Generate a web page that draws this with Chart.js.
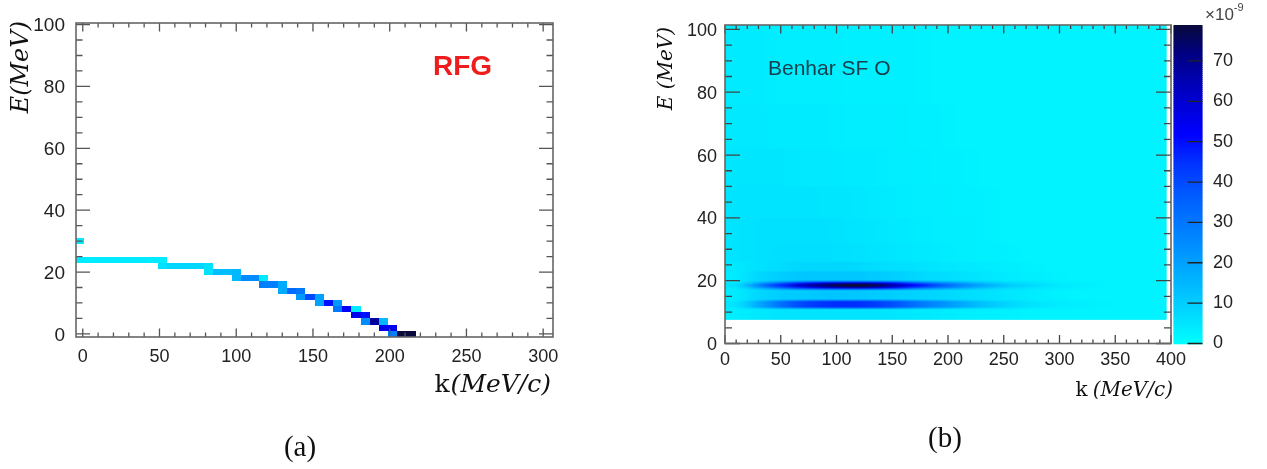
<!DOCTYPE html>
<html><head><meta charset="utf-8">
<script src="https://cdn.jsdelivr.net/npm/chart.js@4.4.1/dist/chart.umd.min.js"></script>
<style>
html,body{margin:0;padding:0;background:#fff;width:1267px;height:469px;overflow:hidden}
#c1{position:absolute;left:0;top:0}
#c2{position:absolute;left:633px;top:0}
</style></head><body>
<canvas id="c1" width="633" height="469"></canvas>
<canvas id="c2" width="634" height="469"></canvas>
<script>
// ---------------- (a) RFG histogram: bin centres (k: 6 MeV/c wide, E: 2 MeV wide) ----------------
const rfgK = [-2,
  -2,4,10,16,22,28,34,40,46,52,
  52,58,64,70,76,82,
  82,88,94,100,
  100,106,112,118,
  118,124,130,
  130,136,142,
  142,148,154,
  154,160,166,
  166,172,178,
  178,184,
  184,190,196,
  196,202,
  202,208,214];
const rfgE = [30,
  24,24,24,24,24,24,24,24,24,24,
  22,22,22,22,22,22,
  20,20,20,20,
  18,18,18,18,
  16,16,16,
  14,14,14,
  12,12,12,
  10,10,10,
  8,8,8,
  6,6,
  4,4,4,
  2,2,
  0,0,0];
const rfgV = [4,
  4,4,4,4,4,4,4,4,4,4,
  6,8,8,8,8,6,
  6,14,14,15,
  15,25,25,4,
  28,28,18,
  18,33,30,
  22,40,20,
  20,50,22,
  30,52,4,
  55,50,
  25,68,15,
  55,55,
  28,79,79];
const xTicksA = [0,50,100,150,200,250,300];
const yTicksA = [0,20,40,60,80,100];

// ---------------- (b) Benhar SF O map: k-bin centres (20 MeV/c wide), rows of 0.5 MeV ----------------
const hmK = [10,30,50,70,90,110,130,150,170,190,210,230,250,270,290,310,330,350,370,390];
const floorRow   = [3.5,4.5,5.5,5.5,5.5,5.5,5.5,5,4.5,4,3.5,3,3,2.5,2.5,2.5,2.5,2.5,2.5,2.5];
const lowEdgeRow = [4,11,19,24,27,28,27,24,19,15,11,8,6,4.5,3.5,3,2.5,2.5,2.5,2.5];
const lowCoreRow = [5,18,32,41,45,46,44,39,32,25,19,13,9,6,4.5,3.5,3,2.5,2.5,2.5];
const gapRow     = [4,8,10,11,12,12,11,10,9,8,7,6,5,4,3,2.5,2.5,2.5,2.5,2.5];
const upEdgeRow  = [4,11,19,26,30,32,31,27,21,16,12,9,6,5,4,3,2.5,2.5,2.5,2.5];
const upMidRow   = [5,19,34,47,56,61,60,50,38,29,21,14,9,6,4.5,3.5,3,2.5,2.5,2.5];
const upCoreRow  = [6,25,45,62,73,79,78,66,50,38,27,19,12,8,5.5,4,3,2.5,2.5,2.5];
const haloRow    = [4,8,10,12,12,12,11,10,8,7,6,5,4,3.5,3,2.5,2.5,2.5,2.5,2.5];
const halo2Row   = [4.5,6,7,8,8,8,7,6.5,6,5,4.5,4,3.5,3,2.5,2.5,2.5,2.5,2.5,2.5];
const diffARow   = [5.5,6,6.5,6.5,6.5,6,5.5,5,4.5,4,3.5,3,3,2.5,2.5,2.5,2.5,2.5,2.5,2.5];
const diffBRow   = [5.5,6,6,6,6,5.5,5,4.5,4,3.5,3.5,3,2.5,2.5,2.5,2.5,2.5,2.5,2.5,2.5];
const diffCRow   = [5.5,5.5,5.5,5.5,5,5,4.5,4,3.5,3.5,3,3,2.5,2.5,2.5,2.5,2.5,2.5,2.5,2.5];
const diffDRow   = [5,5,5,4.5,4.5,4,4,3.5,3.5,3,3,2.5,2.5,2.5,2.5,2.5,2.5,2.5,2.5,2.5];
const diffERow   = [4.5,4.5,4,4,4,3.5,3.5,3.5,3,3,2.5,2.5,2.5,2.5,2.5,2.5,2.5,2.5,2.5,2.5];
const topRow     = [4,4,3.5,3.5,3.5,3,3,3,3,2.5,2.5,2.5,2.5,2.5,2.5,2.5,2.5,2.5,2.5,2.5];
// E ranges (MeV) and which row profile they hold
const hmRowLo = [7, 11, 11.5, 13.5, 14, 17, 17.5, 18, 19, 19.5, 20, 23, 26, 32, 40, 50, 62, 76];
const hmRowHi = [11, 11.5, 13.5, 14, 17, 17.5, 18, 19, 19.5, 20, 23, 26, 32, 40, 50, 62, 76, 102];
const hmRowProfile = [floorRow, lowEdgeRow, lowCoreRow, lowEdgeRow, gapRow, upEdgeRow, upMidRow, upCoreRow, upMidRow, upEdgeRow, haloRow, halo2Row, diffARow, diffBRow, diffCRow, diffDRow, diffERow, topRow];
const xTicksB = [0,50,100,150,200,250,300,350,400];
const yTicksB = [0,20,40,60,80,100];
const cbTicks = [0,10,20,30,40,50,60,70];
const cbMax = 78.9;

// ---------------- palette ----------------
const palV = [0, 8, 16, 25, 35, 45, 52, 62, 72, 79];
const palC = [[0,255,255],[0,215,255],[0,180,255],[0,140,255],[0,100,255],[0,50,255],[0,0,255],[0,0,200],[0,0,130],[10,10,60]];
function pal(v){
  if (v <= palV[0]) return palC[0];
  for (let i=1;i<palV.length;i++){
    if (v <= palV[i]){
      const t=(v-palV[i-1])/(palV[i]-palV[i-1]);
      return palC[i-1].map((c,j)=>Math.round(c+(palC[i][j]-c)*t));
    }
  }
  return palC[palC.length-1];
}
const rgb = c => `rgb(${c[0]},${c[1]},${c[2]})`;

// ---------------- helpers ----------------
function ticksFrom(arr){ return s => { s.ticks = arr.map(v=>({value:v})); }; }
function fixW(w){ return s => { s.width = w; s.paddingTop = 0; s.paddingBottom = 0; }; }
function fixH(h){ return s => { s.height = h; s.paddingLeft = 0; s.paddingRight = 0; }; }
function rootTicks(chart, o){
  const {ctx, chartArea:a, scales} = chart;
  const xs = scales.x, ys = scales.y;
  ctx.save();
  ctx.strokeStyle = o.color; ctx.lineWidth = 1.3;
  ctx.beginPath();
  for (let v=o.x0; v<=xs.max+1e-9; v+=o.xMin){
    if (v < xs.min) continue;
    const p = xs.getPixelForValue(v);
    const maj = Math.abs(v/o.xMaj - Math.round(v/o.xMaj))<1e-6;
    const L = maj? o.xMajL : o.xMinL;
    ctx.moveTo(p,a.bottom); ctx.lineTo(p,a.bottom-L);
    ctx.moveTo(p,a.top); ctx.lineTo(p,a.top+L);
  }
  for (let v=o.y0; v<=ys.max+1e-9; v+=o.yMin){
    if (v < ys.min) continue;
    const p = ys.getPixelForValue(v);
    const maj = Math.abs(v/o.yMaj - Math.round(v/o.yMaj))<1e-6;
    const L = maj? o.yMajL : o.yMinL;
    ctx.moveTo(a.left,p); ctx.lineTo(a.left+L,p);
    ctx.moveTo(a.right,p); ctx.lineTo(a.right-L,p);
  }
  ctx.stroke();
  ctx.lineWidth = 1.6; ctx.strokeStyle = o.frame;
  ctx.strokeRect(a.left, a.top, a.width, a.height);
  ctx.restore();
}
function rotText(ctx, txt, cx, top, font, color){
  ctx.save(); ctx.translate(cx, top); ctx.rotate(-Math.PI/2);
  ctx.font = font; ctx.fillStyle = color; ctx.textAlign='right'; ctx.textBaseline='middle';
  ctx.fillText(txt, 0, 0); ctx.restore();
}
function kTitle(ctx, right, base, size, gap){
  ctx.save(); ctx.fillStyle='#111'; ctx.textBaseline='alphabetic';
  ctx.font = `italic ${size}px "DejaVu Serif"`;
  const rest = '(MeV/c)';
  const w = ctx.measureText(rest).width;
  ctx.textAlign='left';
  ctx.fillText(rest, right - w, base);
  ctx.font = `${size}px "DejaVu Serif"`;
  ctx.textAlign='right';
  ctx.fillText('k', right - w - gap, base);
  ctx.restore();
}
const xFont = {family:'Liberation Sans', size:18};
const yFont = {family:'Liberation Sans', size:19};

// ---------------- chart (a) ----------------
const rfgCells = rfgK.map((k,i)=>({x:k, y:rfgE[i], v:rfgV[i]}));
const rfgPlugin = {
  id:'rfg',
  beforeDatasetsDraw(chart){
    const {ctx, chartArea:a, scales:{x,y}} = chart;
    ctx.save();
    ctx.beginPath(); ctx.rect(a.left,a.top,a.width,a.height); ctx.clip();
    chart.data.datasets[0].data.forEach(p=>{
      const x0 = Math.round(x.getPixelForValue(p.x-3)), x1 = Math.round(x.getPixelForValue(p.x+3));
      const y0 = Math.round(y.getPixelForValue(p.y+1)), y1 = Math.round(y.getPixelForValue(p.y-1));
      ctx.fillStyle = rgb(pal(p.v));
      ctx.fillRect(x0,y0,x1-x0,y1-y0);
    });
    ctx.restore();
  },
  afterDraw(chart){
    const ctx = chart.ctx;
    rootTicks(chart,{color:'#555', frame:'#666', x0:0, xMin:10, xMaj:50, xMajL:8.5, xMinL:4.5, y0:0, yMin:5, yMaj:20, yMajL:14, yMinL:6.5});
    rotText(ctx, 'E(MeV)', 22, 21, 'italic 24px "DejaVu Serif"', '#111');
    kTitle(ctx, 551, 392, 25, 1);
    ctx.save();
    ctx.font = 'bold 28px "Liberation Sans"'; ctx.fillStyle='#ee1c1c'; ctx.textAlign='left'; ctx.textBaseline='alphabetic';
    ctx.fillText('RFG', 433, 75);
    ctx.font = '29px "Liberation Serif"'; ctx.fillStyle='#111'; ctx.textAlign='center';
    ctx.fillText('(a)', 300, 456);
    ctx.restore();
  }
};
new Chart(document.getElementById('c1'), {
  type:'scatter',
  data:{datasets:[{data:rfgCells, pointRadius:0, pointHoverRadius:0}]},
  options:{
    responsive:false, animation:false, events:[],
    layout:{padding:{top:23, right:80, left:0, bottom:0}},
    plugins:{legend:{display:false}, tooltip:{enabled:false}},
    scales:{
      x:{type:'linear', min:-4.4, max:306.4, afterBuildTicks:ticksFrom(xTicksA), afterFit:fixH(132),
         grid:{display:false, drawTicks:false}, border:{display:false},
         ticks:{padding:9, color:'#222', font:xFont, maxRotation:0, autoSkip:false}},
      y:{type:'linear', min:-1, max:100.5, afterBuildTicks:ticksFrom(yTicksA), afterFit:fixW(76),
         grid:{display:false, drawTicks:false}, border:{display:false},
         ticks:{padding:11, labelOffset:1.5, color:'#222', font:yFont, autoSkip:false}}
    }
  },
  plugins:[rfgPlugin]
});

// ---------------- chart (b) ----------------
const hmCells = [];
for (let e=7; e<102; e+=0.5){
  let g = 0;
  for (let i=0;i<hmRowLo.length;i++) if (e>=hmRowLo[i] && e<hmRowHi[i]) g=i;
  const prof = hmRowProfile[g];
  hmK.forEach((k,c)=>hmCells.push({x:k, y:e+0.25, v:prof[c]}));
}
const hmPlugin = {
  id:'hm',
  beforeDatasetsDraw(chart){
    const {ctx, chartArea:a, scales:{x,y,cb}} = chart;
    const pts = chart.data.datasets[0].data;
    const nC = hmK.length, nR = 190;
    const off = document.createElement('canvas'); off.width=nC; off.height=nR;
    const octx = off.getContext('2d'); const img = octx.createImageData(nC,nR);
    pts.forEach(p=>{
      const c = Math.round((p.x-10)/20), r = Math.round((101.75 - p.y)*2);
      const col = pal(p.v); const o = (r*nC+c)*4;
      img.data[o]=col[0]; img.data[o+1]=col[1]; img.data[o+2]=col[2]; img.data[o+3]=255;
    });
    octx.putImageData(img,0,0);
    const left = x.getPixelForValue(0), right = x.getPixelForValue(396);
    const top = a.top, bot = y.getPixelForValue(7.6);
    ctx.save();
    ctx.beginPath(); ctx.rect(left, top, right-left, bot-top); ctx.clip();
    ctx.fillStyle = rgb(pal(2.5)); ctx.fillRect(left, top, right-left, bot-top);
    ctx.imageSmoothingEnabled = true; ctx.imageSmoothingQuality='high';
    ctx.drawImage(off, x.getPixelForValue(0), y.getPixelForValue(102), x.getPixelForValue(400)-x.getPixelForValue(0), y.getPixelForValue(7)-y.getPixelForValue(102));
    ctx.restore();
    // colour bar
    const bx0 = a.right+2.5, bx1 = a.right+31.5;
    ctx.save();
    for (let v=0; v<cbMax; v+=0.5){
      const yA = cb.getPixelForValue(Math.min(v+0.5,cbMax)), yB = cb.getPixelForValue(v);
      ctx.fillStyle = rgb(pal(v+0.25));
      ctx.fillRect(bx0, yA, bx1-bx0, yB-yA+0.8);
    }
    ctx.strokeStyle='#222'; ctx.lineWidth=1.3; ctx.beginPath();
    cbTicks.forEach(v=>{ const p=cb.getPixelForValue(v); ctx.moveTo(bx1,p); ctx.lineTo(bx1-15,p); });
    ctx.stroke();
    ctx.restore();
  },
  afterDraw(chart){
    const ctx = chart.ctx;
    rootTicks(chart,{color:'#444', frame:'#666', x0:0, xMin:10, xMaj:50, xMajL:8.5, xMinL:4, y0:0, yMin:5, yMaj:20, yMajL:15, yMinL:7});
    rotText(ctx, 'E (MeV)', 34, 27, 'italic 20px "DejaVu Serif"', '#111');
    kTitle(ctx, 540, 396, 20, 5);
    ctx.save();
    ctx.font = '21px "Liberation Sans"'; ctx.fillStyle='#17404c'; ctx.textAlign='left'; ctx.textBaseline='alphabetic';
    ctx.fillText('Benhar SF O', 135, 75);
    ctx.font = '17px "Liberation Sans"'; ctx.fillStyle='#444';
    ctx.fillText('\u00d710', 572, 20);
    const w = ctx.measureText('\u00d710').width;
    ctx.font = '11px "Liberation Sans"';
    ctx.fillText('-9', 572+w, 11);
    ctx.font = '29px "Liberation Serif"'; ctx.fillStyle='#111'; ctx.textAlign='center';
    ctx.fillText('(b)', 312, 447);
    ctx.restore();
  }
};
new Chart(document.getElementById('c2'), {
  type:'scatter',
  data:{datasets:[{data:hmCells, pointRadius:0, pointHoverRadius:0}]},
  options:{
    responsive:false, animation:false, events:[],
    layout:{padding:{top:25, right:0, left:0, bottom:0}},
    plugins:{legend:{display:false}, tooltip:{enabled:false}},
    scales:{
      x:{type:'linear', min:0, max:400, afterBuildTicks:ticksFrom(xTicksB), afterFit:fixH(125.5),
         grid:{display:false, drawTicks:false}, border:{display:false},
         ticks:{padding:6, color:'#222', font:xFont, maxRotation:0, autoSkip:false}},
      y:{type:'linear', min:0, max:101.4, afterBuildTicks:ticksFrom(yTicksB), afterFit:fixW(92),
         grid:{display:false, drawTicks:false}, border:{display:false},
         ticks:{padding:8, labelOffset:1.5, color:'#222', font:{family:'Liberation Sans', size:18}, autoSkip:false}},
      cb:{type:'linear', axis:'y', position:'right', min:0, max:cbMax, afterBuildTicks:ticksFrom(cbTicks), afterFit:fixW(96),
         grid:{display:false, drawTicks:false}, border:{display:false},
         ticks:{padding:42, color:'#222', font:{family:'Liberation Sans', size:18}, autoSkip:false}}
    }
  },
  plugins:[hmPlugin]
});
</script>
</body></html>
